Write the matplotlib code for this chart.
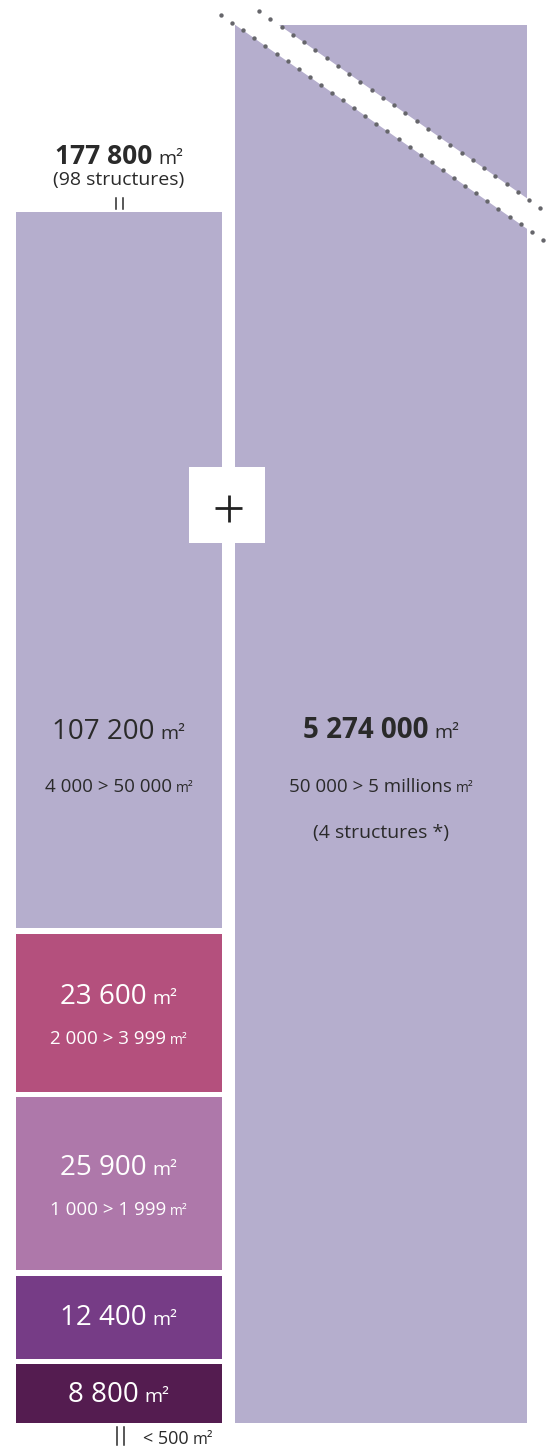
import matplotlib.pyplot as plt
import numpy as np

plt.rcParams['font.family'] = ['Open Sans', 'DejaVu Sans']

# surfaces by size class (m2), stacked from the smallest class upwards
segment_values = [8800, 12400, 25900, 23600, 107200]
segment_labels = ["8 800", "12 400", "25 900", "23 600", "107 200"]
segment_ranges = ["", "", "1 000 > 1 999", "2 000 > 3 999", "4 000 > 50 000"]
segment_colors = ["#541c50", "#763c86", "#ae78aa", "#b4507d", "#b5aecd"]

small_total_label = "177 800"
small_count_label = "(98 structures)"
smallest_class_label = "< 500"

large_value_label = "5 274 000"
large_range_label = "50 000 > 5 millions"
large_count_label = "(4 structures *)"

W, H = 548, 1447
DARK = "#2a2a2a"
LAVENDER = "#b5aecd"


def put_label(ax, x, y_px, main, unit, size, usize, color, weight='normal', ha='center'):
    """Draw 'main' + small unit on the same baseline (y given in pixels from top)."""
    y = H - y_px
    t1 = ax.text(0, y, main, fontsize=size, fontweight=weight, color=color, va='baseline')
    t2 = ax.text(0, y, unit, fontsize=usize, color=color, va='baseline')
    r = ax.figure.canvas.get_renderer()
    w1 = t1.get_window_extent(r).width
    w2 = t2.get_window_extent(r).width
    sp = size * 0.3
    total = w1 + sp + w2
    x0 = x - total / 2 if ha == 'center' else x
    t1.set_x(x0)
    t2.set_x(x0 + w1 + sp)


def main():
    fig = plt.figure(figsize=(W / 100, H / 100), dpi=100)
    ax = fig.add_axes([0, 0, 1, 1])
    ax.set_xlim(0, W)
    ax.set_ylim(0, H)
    ax.axis('off')

    # left column: stacked size classes
    left_x0, left_x1 = 16, 222
    left_c = (left_x0 + left_x1) / 2
    base = H - 1423
    top = H - 212
    gap = 5.5
    k = (top - base - gap * (len(segment_values) - 1)) / sum(segment_values)

    cur = base
    for i, (v, c) in enumerate(zip(segment_values, segment_colors)):
        h = v * k
        ax.bar(left_c, h, width=left_x1 - left_x0, bottom=cur, color=c, linewidth=0)
        center_px = H - (cur + h / 2)
        if i == len(segment_values) - 1:
            # top class: label aligned with the big bar's label
            put_label(ax, left_c, 739, segment_labels[i], "m²", 20, 14, DARK)
            put_label(ax, left_c, 792, segment_ranges[i], "m²", 13.5, 10, DARK)
        elif segment_ranges[i]:
            put_label(ax, left_c, center_px - 9, segment_labels[i], "m²", 20, 14, "white")
            put_label(ax, left_c, center_px + 31, segment_ranges[i], "m²", 13.5, 10, "white")
        else:
            put_label(ax, left_c, center_px + 8, segment_labels[i], "m²", 20, 14, "white")
        cur += h + gap

    # right column: the broken big bar
    right_x0, right_x1 = 235, 527
    right_c = (right_x0 + right_x1) / 2
    ax.bar(right_c, (H - 25) - base, width=right_x1 - right_x0, bottom=base,
           color=LAVENDER, linewidth=0)

    # break band
    slope = 0.699

    def upper(x):
        return 11 + slope * (x - 259)

    def lower(x):
        return upper(x) + 30.5

    bx = np.array([225, 540])
    ax.fill([bx[0], bx[1], bx[1], bx[0]],
            [H - upper(bx[0]), H - upper(bx[1]), H - lower(bx[1]), H - lower(bx[0])],
            color="white", zorder=3, linewidth=0)
    ux = np.arange(259, 542, 11.25)
    lx = np.arange(221, 543, 11.1)
    ax.scatter(ux, H - upper(ux), s=10, color="#66666b", zorder=4, linewidths=0)
    ax.scatter(lx, H - lower(lx), s=10, color="#66666b", zorder=4, linewidths=0)

    put_label(ax, right_c, 738, large_value_label, "m²", 20, 14, DARK, weight='bold')
    put_label(ax, right_c, 792, large_range_label, "m²", 13.5, 10, DARK)
    ax.text(right_c, H - 838, large_count_label, fontsize=14, color=DARK,
            ha='center', va='baseline')

    # plus box
    ax.add_patch(plt.Rectangle((189, H - 543), 76, 76, color="white", zorder=5, linewidth=0))
    ax.plot([215, 242], [H - 508, H - 508], color="#222222", lw=2, zorder=6, solid_capstyle='butt')
    ax.plot([228.5, 228.5], [H - 495, H - 522], color="#222222", lw=2, zorder=6, solid_capstyle='butt')

    # totals above the left column
    put_label(ax, left_c, 164, small_total_label, "m²", 19, 14, DARK, weight='bold')
    ax.text(left_c, H - 185, small_count_label, fontsize=14, color=DARK,
            ha='center', va='baseline')
    for xx in (115.5, 122.5):
        ax.plot([xx, xx], [H - 198, H - 209], color=DARK, lw=1.1)

    # smallest class below the column
    for xx in (116.5, 123.5):
        ax.plot([xx, xx], [H - 1427, H - 1445], color=DARK, lw=1.1)
    put_label(ax, 143, 1444, smallest_class_label, "m²", 13, 11.5, DARK, ha='left')

    fig.savefig("out.png", dpi=100)
    plt.close(fig)


if __name__ == "__main__":
    main()
